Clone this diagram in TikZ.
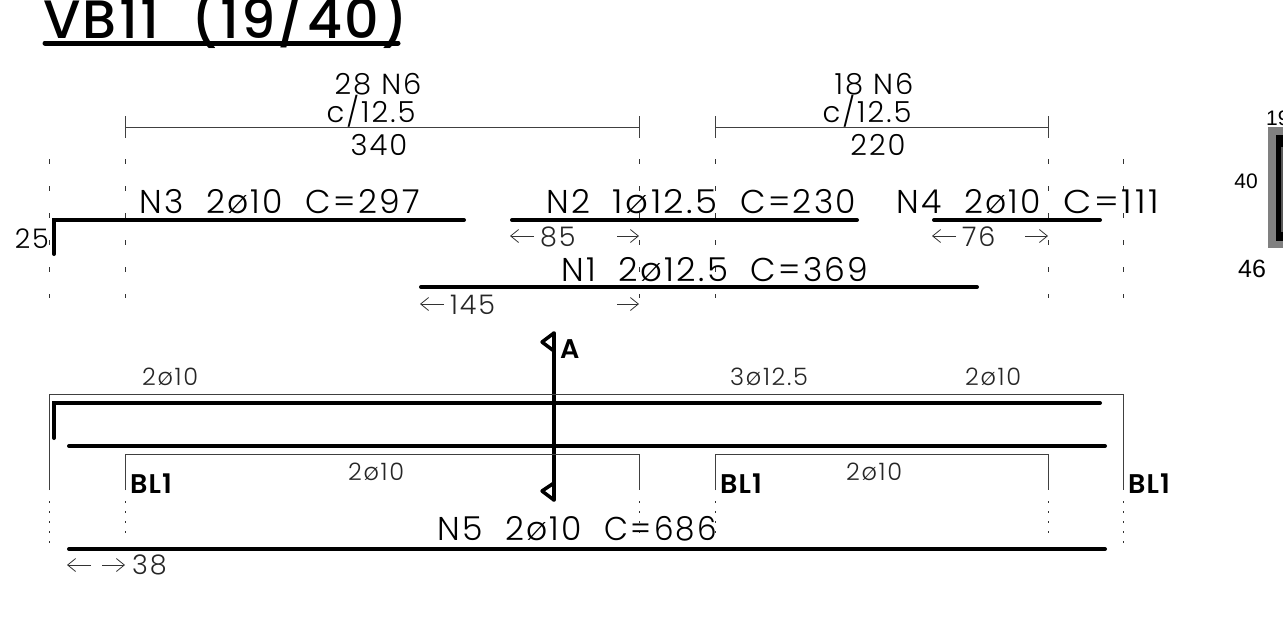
\documentclass[tikz,border=0pt]{standalone}
\usepackage{fontspec}
\setmainfont{Liberation Sans}
\newfontfamily\cadfont[LetterSpace=7]{Poppins Light}
\newfontfamily\cadbold[LetterSpace=4]{Poppins SemiBold}
\newfontfamily\titlefont[LetterSpace=4]{Poppins Medium}
\usetikzlibrary{arrows.meta}
\tikzset{
	bar/.style={line width=4pt,line cap=round,line join=miter},
	dimline/.style={line width=1pt,black!75},
	column/.style={line width=1pt,black!80,dash pattern=on 5pt off 22pt},
	dotline/.style={line width=1pt,black!80,dash pattern=on 2pt off 8pt},
	lenarrow/.style={line width=.8pt,black!80,-{Straight Barb[length=8pt,width=13pt]}},
	bartext/.style={anchor=base west,inner sep=0,font=\cadfont\fontsize{33}{33}\selectfont},
	dimtext/.style={anchor=base,inner sep=0,font=\cadfont\fontsize{29}{29}\selectfont},
	smalltext/.style={anchor=base west,inner sep=0,text=black!85,font=\cadfont\fontsize{24}{24}\selectfont},
	lentext/.style={anchor=base west,inner sep=0,text=black!85,font=\cadfont\fontsize{27}{27}\selectfont},
	bltext/.style={anchor=base west,inner sep=0,font=\cadbold\fontsize{27}{27}\selectfont}
}
\begin{document}
\begin{tikzpicture}[x=1pt,y=-1pt]
	\useasboundingbox (0,0) rectangle (1283,633);
	% title
	\node[anchor=base west,inner sep=0,font=\titlefont\fontsize{54}{54}\selectfont] (title) at (43,38) {VB11 \ (19/40)};
	\draw[line width=5pt,line cap=round] (45,43) -- (398,43);
	% stirrup zones
	\foreach \xa/\xb/\xm/\xn/\nb/\len in {125/639/379/378/28/340,715/1048/878/874/18/220}
	{
		\draw[dimline] (\xa,127) -- (\xb,127) (\xa,116) -- (\xa,138) (\xb,116) -- (\xb,138);
		\node[dimtext] at (\xn,94) {\nb\ N6};
		\node[dimtext] at (\xn-7,122) {c/12.5};
		\node[dimtext] at (\xm,155) {\len};
	}
	% columns
	\foreach \x in {49,125,639,715,1048,1123}
	{
		\draw[column] (\x,159) -- (\x,298);
	}
	% top bars
	\draw[bar] (54,254) -- (54,220) -- (464,220);
	\draw[bar] (512,220) -- (857,220);
	\draw[bar] (934,220) -- (1100,220);
	\draw[bar] (421,287) -- (977,287);
	\node[bartext] (n3) at (139,213) {N3 \ 2ø10 \ C=297};
	\node[bartext] (n2) at (546,213) {N2 \ \scalebox{1.08}[1]{1ø12.5} \ C=230};
	\node[bartext] (n4) at (896,213) {N4 \ 2ø10 \ \scalebox{1.11}[1]{C=111}};
	\node[bartext] (n1) at (561,281) {N1 \ \scalebox{1.03}[1]{2ø12.5} \ C=369};
	\node[anchor=base east,inner sep=0,font=\cadfont\fontsize{27}{27}\selectfont] (hook) at (49,248) {25};
	% anchorage lengths
	\foreach \xa/\xb/\xc/\y/\len in {510/617/639/236/85,932/1025/1048/236/76,420/617/639/304/145}
	{
		\draw[lenarrow] (\xa+24,\y) -- (\xa,\y);
		\draw[lenarrow] (\xb,\y) -- (\xc,\y);
		\node[lentext] at (\xa+30,\y+10) {\len};
	}
	% section mark
	\draw[line width=3.5pt,line join=round] (554,500) -- (542,491) -- (554,483) (554,351) -- (542,342) -- (554,333);
	\draw[line width=3.5pt,line cap=round] (554,333) -- (554,500);
	\node[bltext] (sec) at (560,358) {A};
	% bottom lines
	\draw[dimline] (49,490) -- (49,394) -- (1123,394) -- (1123,490);
	\foreach \xa/\xb in {125/639,715/1048}
	{
		\draw[dimline] (\xa,490) -- (\xa,454) -- (\xb,454) -- (\xb,490);
		\draw[dotline] (\xa,501) -- (\xa,540);
		\draw[dotline] (\xb,501) -- (\xb,540);
		\node[bltext] at (\xa+5,493) {BL1};
	}
	\foreach \x in {49,1123}
	{
		\draw[dotline] (\x,501) -- (\x,550);
	}
	\node[bltext] (bl) at (1128,493) {BL1};
	\draw[bar] (54,438) -- (54,403) -- (1100,403);
	\draw[bar] (69,446) -- (1105,446);
	\draw[bar] (69,549) -- (1105,549);
	\node[smalltext] (top1) at (142,385) {2ø10};
	\node[smalltext] (top2) at (730,385) {3ø12.5};
	\node[smalltext] (top3) at (965,385) {2ø10};
	\node[smalltext] (bot1) at (348,480) {2ø10};
	\node[smalltext] (bot2) at (846,480) {2ø10};
	\node[bartext] (n5) at (437,540) {N5 \ 2ø10 \ \scalebox{.94}[1]{C=686}};
	\draw[lenarrow] (91,565) -- (67,565);
	\draw[lenarrow] (102,565) -- (125,565);
	\node[lentext] (ext) at (132,574) {38};
	% section
	\fill[black!50] (1268,127) rectangle (1300,248);
	\fill[black] (1276,135) rectangle (1300,241);
	\fill[black!65] (1281,147) rectangle (1300,232);
	\node[anchor=base west,inner sep=0,font=\fontsize{21}{21}\selectfont] (wd) at (1266,125) {19};
	\node[anchor=center,inner sep=0,font=\fontsize{21}{21}\selectfont] (ht) at (1246,181) {40};
	\node[anchor=base west,inner sep=0,font=\fontsize{25}{25}\selectfont] (cv) at (1238,277) {46};
\end{tikzpicture}
\end{document}
